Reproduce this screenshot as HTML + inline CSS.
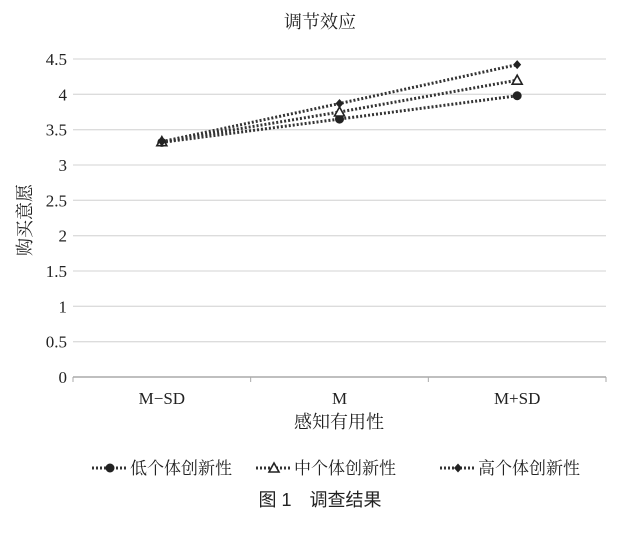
<!DOCTYPE html>
<html><head><meta charset="utf-8"><style>
body{margin:0;background:#fff;width:639px;height:529px;overflow:hidden}
svg text{font-family:"Liberation Serif","Noto Serif CJK SC",serif;fill:#222}
</style></head><body>
<svg width="639" height="529">
<text x="320" y="28" font-size="18" text-anchor="middle">调节效应</text>
<g id="grid"></g><g id="axes"></g><g id="series"></g>
<text transform="translate(31,220) rotate(-90)" font-size="18" text-anchor="middle">购买意愿</text>
<text x="339" y="428" font-size="18" text-anchor="middle">感知有用性</text>
<g id="legend"></g>
<text x="320" y="506" font-size="18" text-anchor="middle" style="font-family:'Liberation Sans','Noto Sans CJK SC',sans-serif">图 1　调查结果</text>
</svg>
<script>
const categories=["M−SD","M","M+SD"];
const yTicks=[0,0.5,1,1.5,2,2.5,3,3.5,4,4.5];
const yTickLabels=["0","0.5","1","1.5","2","2.5","3","3.5","4","4.5"];
const seriesNames=["低个体创新性","中个体创新性","高个体创新性"];
const lowVals=[3.32,3.65,3.98];
const midVals=[3.33,3.75,4.20];
const highVals=[3.33,3.87,4.42];
const NS="http://www.w3.org/2000/svg";
const x0=73,x1=606,yb=377,yt=59,ymax=4.5;
const band=(x1-x0)/categories.length;
const X=i=>x0+band*(i+0.5);
const Y=v=>yb-(v/ymax)*(yb-yt);
function mk(t,a,p){const e=document.createElementNS(NS,t);for(const k in a)e.setAttribute(k,a[k]);p.appendChild(e);return e;}
const grid=document.getElementById('grid'),axes=document.getElementById('axes'),ser=document.getElementById('series'),leg=document.getElementById('legend');
yTicks.forEach((v,i)=>{
 if(v>0){const l=mk('line',{x1:x0,x2:x1,y1:Y(v),y2:Y(v),stroke:'#dcdcdc','stroke-width':1.3},grid);
 
 }
 const t=mk('text',{x:67,y:Y(v)+6,'font-size':17,'text-anchor':'end'},axes);t.textContent=yTickLabels[i];
 
 
});
const ax=mk('line',{x1:x0,x2:x1,y1:yb,y2:yb,stroke:'#aaa','stroke-width':1.5},axes);


for(let i=0;i<=categories.length;i++){const tk=mk('line',{x1:x0+band*i,x2:x0+band*i,y1:yb,y2:yb+5,stroke:'#aaa'},axes);
 
 }
categories.forEach((c,i)=>{const t=mk('text',{x:X(i),y:404,'font-size':17,'text-anchor':'middle'},axes);t.textContent=c;
 
 });
function marker(type,x,y,p){
 if(type===0)return mk('circle',{cx:x,cy:y,r:4.5,fill:'#222'},p);
 if(type===1)return mk('path',{d:`M${x},${y-5}L${x+5},${y+4}L${x-5},${y+4}Z`,fill:'#fff',stroke:'#222','stroke-width':1.6},p);
 return mk('path',{d:`M${x},${y-4.5}L${x+4},${y}L${x},${y+4.5}L${x-4},${y}Z`,fill:'#222'},p);
}
[lowVals,midVals,highVals].forEach((vals,s)=>{
 const g=mk('g',{},ser);
 
 
 const pl=mk('polyline',{points:vals.map((v,i)=>X(i)+','+Y(v)).join(' '),fill:'none',stroke:'#333','stroke-width':3,'stroke-dasharray':'2 2'},g);
 
 
 vals.forEach((v,i)=>{const m=marker(s,X(i),Y(v),g);
  
  });
});
const lx=[92,256,440];
seriesNames.forEach((n,s)=>{
 const g=mk('g',{},leg);
 
 
 const ly=468;
 mk('line',{x1:lx[s],x2:lx[s]+36,y1:ly,y2:ly,stroke:'#333','stroke-width':3,'stroke-dasharray':'2 2'},g);
 marker(s,lx[s]+18,ly,g);
 const t=mk('text',{x:lx[s]+38,y:ly+6,'font-size':17},g);t.textContent=n;
});
</script>
</body></html>
